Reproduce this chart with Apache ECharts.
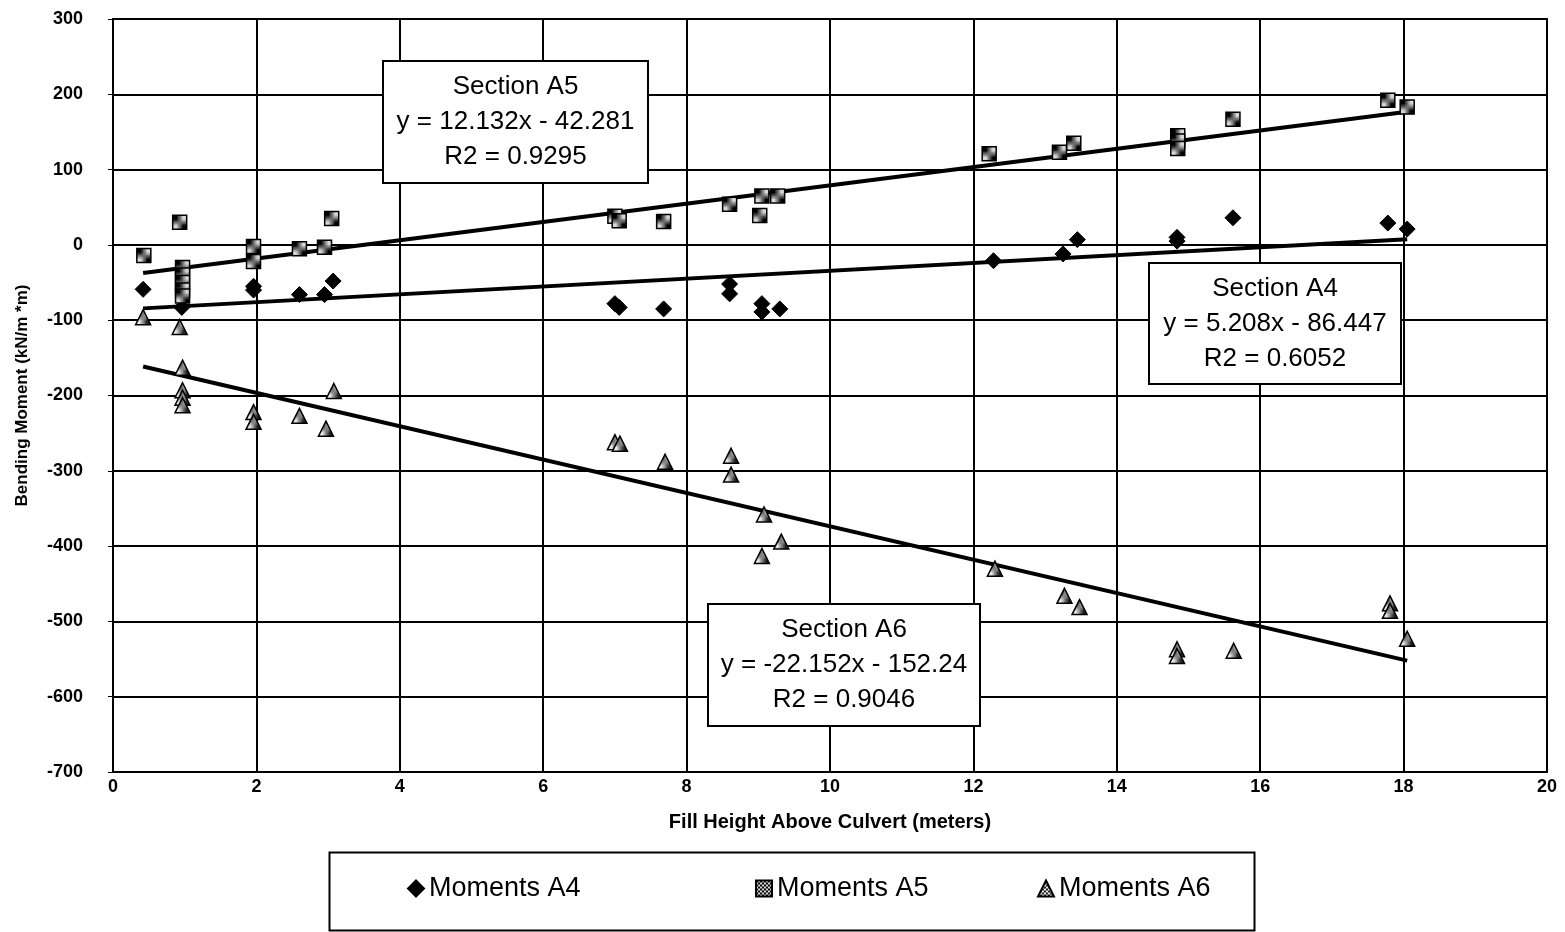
<!DOCTYPE html>
<html><head><meta charset="utf-8">
<script src="https://cdn.jsdelivr.net/npm/echarts@6/dist/echarts.min.js"></script>
<style>html,body{margin:0;padding:0;background:#fff}#c{width:1565px;height:932px}</style>
</head><body><div id="c"></div>
<script>
// ---- Data ----
const a4X = [0.42, 0.96, 1.96, 1.96, 2.6, 2.95, 3.07, 7.0, 7.06, 7.68, 8.6, 8.6, 9.05, 9.05, 9.3, 12.28, 13.25, 13.45, 14.84, 14.84, 15.62, 17.78, 18.05];
const a4Y = [-59, -83, -55, -60, -66, -66, -48, -78, -83, -85, -52, -65, -78, -89, -85, -21, -12, 7, 10, 5, 36, 29, 21];

const a5X = [0.43, 0.93, 0.97, 0.97, 0.97, 0.97, 0.97, 1.96, 1.96, 2.6, 2.95, 3.05, 7.0, 7.06, 7.68, 8.6, 9.02, 9.05, 9.27, 12.22, 13.2, 13.4, 14.85, 14.85, 14.85, 15.62, 17.78, 18.05];
const a5Y = [-14, 30, -30, -40, -50, -60, -68, -2, -22, -5, -3, 35, 38, 32, 31, 54, 39, 65, 65, 121, 123, 135, 145, 138, 128, 167, 192, 183];

const a6X = [0.42, 0.93, 0.97, 0.97, 0.97, 0.97, 1.96, 1.96, 2.6, 2.97, 3.08, 7.0, 7.07, 7.7, 8.62, 8.62, 9.08, 9.32, 9.05, 12.3, 13.27, 13.48, 14.84, 14.84, 15.63, 17.81, 17.81, 18.05];
const a6Y = [-96, -109, -163, -193, -203, -213, -222, -235, -227, -244, -194, -262, -264, -288, -280, -305, -358, -394, -413, -430, -466, -481, -537, -546, -539, -476, -486, -523];

// trend line end points (from the fitted equations shown on the chart)
const trendX = [0.42, 18.05];
const trendA4 = [-84.3, 7.6];
const trendA5 = [-37.2, 176.7];
const trendA6 = [-161.5, -552.1];

const seriesNames = ['Moments A4', 'Moments A5', 'Moments A6'];
const notes = [
  {lines: ['Section A5', 'y = 12.132x - 42.281', 'R2 = 0.9295']},
  {lines: ['Section A4', 'y = 5.208x - 86.447', 'R2 = 0.6052']},
  {lines: ['Section A6', 'y = -22.152x - 152.24', 'R2 = 0.9046']}
];

// ---- styles ----
function pattern(on, off, cell) {
  const c = document.createElement('canvas');
  c.width = cell * 2; c.height = cell * 2;
  const g = c.getContext('2d');
  g.fillStyle = off; g.fillRect(0, 0, c.width, c.height);
  g.fillStyle = on;
  g.fillRect(0, 0, cell, cell);
  g.fillRect(cell, cell, cell, cell);
  return {image: c, repeat: 'repeat'};
}
const sqFill = pattern('#000', '#d8d8d8', 2);
const triFill = pattern('#222', '#e6e6e6', 2);

const zip = (xs, ys) => xs.map((x, i) => [x, ys[i]]);

const chart = echarts.init(document.getElementById('c'), null, {renderer: 'canvas'});
const font = "'Liberation Sans', Arial, sans-serif";

const boxes = [
  {x: 382, y: 60, w: 265, h: 122, note: notes[0]},
  {x: 1148, y: 262, w: 252, h: 121, note: notes[1]},
  {x: 707, y: 603, w: 272, h: 122, note: notes[2]}
];

const graphics = boxes.map(b => ({
  type: 'group', left: b.x, top: b.y, z: 100,
  children: [
    {type: 'rect', z: 100, shape: {x: 0, y: 0, width: b.w, height: b.h},
     style: {fill: '#fff', stroke: '#000', lineWidth: 2}},
    {type: 'text', z: 101, x: b.w / 2, y: b.h / 2,
     style: {text: b.note.lines.join('\n'), fill: '#000', font: "26px " + font,
             align: 'center', verticalAlign: 'middle', lineHeight: 35}}
  ]
}));
graphics.push({
  type: 'rect', left: 327, top: 850, z: 0,
  shape: {x: 0, y: 0, width: 925, height: 78},
  style: {fill: 'none', stroke: '#000', lineWidth: 2}
});

const legendLefts = [402, 750, 1032];
const legends = seriesNames.map((n, i) => ({
  data: [n], left: legendLefts[i], top: 870, orient: 'horizontal',
  itemWidth: 16, itemHeight: 16,
  textStyle: {fontFamily: font, fontSize: 27, color: '#000'}
}));

chart.setOption({
  animation: false,
  backgroundColor: '#fff',
  grid: {left: 113, right: 18, top: 19, bottom: 160, show: true, borderColor: '#000', borderWidth: 2, backgroundColor: '#fff'},
  xAxis: {
    type: 'value', min: 0, max: 20, interval: 2,
    name: 'Fill Height Above Culvert (meters)', nameLocation: 'middle', nameGap: 40,
    nameTextStyle: {fontFamily: font, fontWeight: 'bold', fontSize: 20, color: '#000'},
    axisLine: {lineStyle: {color: '#000', width: 2}},
    axisTick: {show: false},
    axisLabel: {fontFamily: font, fontWeight: 'bold', fontSize: 18, color: '#000', margin: 6},
    splitLine: {show: true, lineStyle: {color: '#000', width: 2}}
  },
  yAxis: {
    type: 'value', min: -700, max: 300, interval: 100,
    name: 'Bending Moment (kN/m *m)', nameLocation: 'middle', nameGap: 82,
    nameTextStyle: {fontFamily: font, fontWeight: 'bold', fontSize: 17, color: '#000'},
    axisLine: {show: true, lineStyle: {color: '#000', width: 2}},
    axisTick: {show: true, length: 5, lineStyle: {color: '#000', width: 1}},
    axisLabel: {fontFamily: font, fontWeight: 'bold', fontSize: 18, color: '#000', margin: 30},
    splitLine: {show: true, lineStyle: {color: '#000', width: 2}}
  },
  legend: legends,
  graphic: graphics,
  series: [
    {name: 'trendA5', type: 'line', data: zip(trendX, trendA5), showSymbol: false, symbol: 'none',
     lineStyle: {color: '#000', width: 4}, z: 3, silent: true},
    {name: 'trendA4', type: 'line', data: zip(trendX, trendA4), showSymbol: false, symbol: 'none',
     lineStyle: {color: '#000', width: 4}, z: 3, silent: true},
    {name: 'trendA6', type: 'line', data: zip(trendX, trendA6), showSymbol: false, symbol: 'none',
     lineStyle: {color: '#000', width: 4}, z: 3, silent: true},
    {name: seriesNames[0], type: 'scatter', data: zip(a4X, a4Y), symbol: 'diamond', symbolSize: 16,
     itemStyle: {color: '#000', borderColor: '#000', borderWidth: 1, opacity: 1}, z: 4},
    {name: seriesNames[1], type: 'scatter', data: zip(a5X, a5Y), symbol: 'rect', symbolSize: 14,
     itemStyle: {color: sqFill, borderColor: '#000', borderWidth: 1.5, opacity: 1}, z: 4},
    {name: seriesNames[2], type: 'scatter', data: zip(a6X, a6Y), symbol: 'triangle', symbolSize: 15,
     itemStyle: {color: triFill, borderColor: '#000', borderWidth: 1.5, opacity: 1}, z: 4}
  ]
});
</script></body></html>
